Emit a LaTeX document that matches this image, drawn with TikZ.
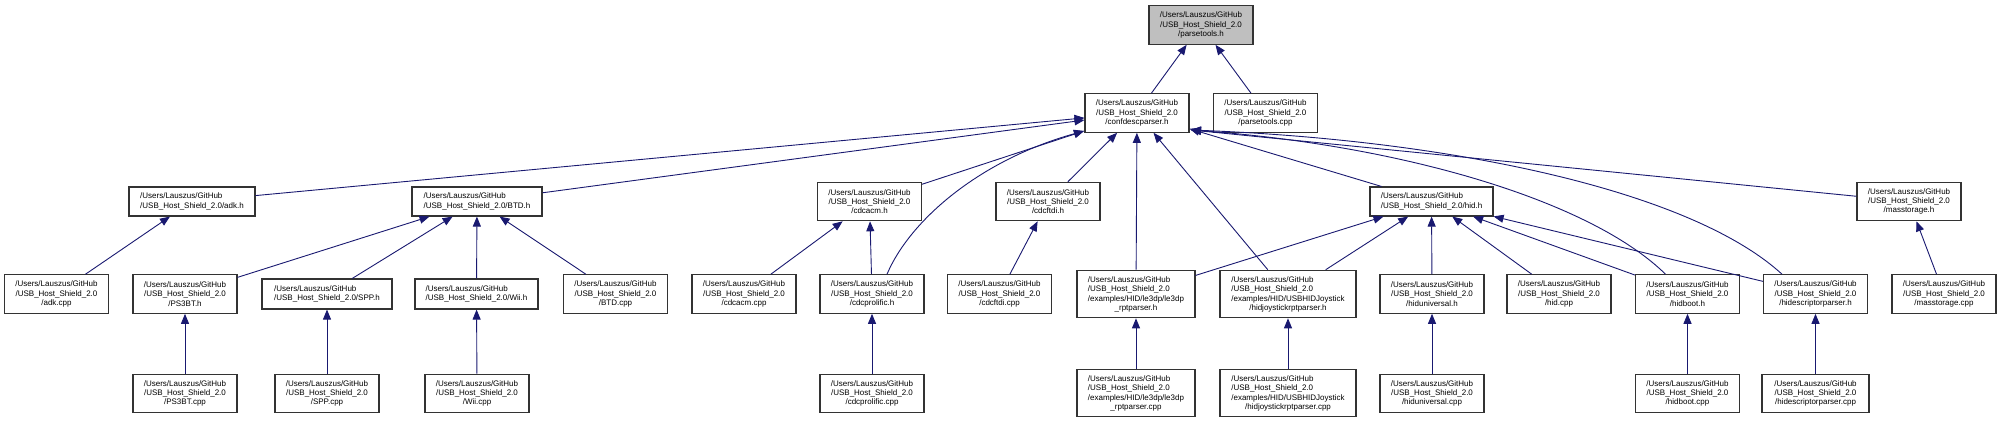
\documentclass[tikz,border=0pt]{standalone}
\usepackage{fontspec}
\setmainfont{Liberation Sans}
\usetikzlibrary{arrows.meta,calc}
\definecolor{edgeblue}{HTML}{191970}
\definecolor{rootfill}{HTML}{BFBFBF}
\definecolor{boxline}{HTML}{333333}
\newcommand{\UserP}{/Users/Lauszus/GitHub}
\newcommand{\ShieldP}{/USB\_Host\_Shield\_2.0}
\newcommand{\LeftThree}[1]{\begin{tabular}[b]{@{}l@{}}\UserP\\\ShieldP\\#1\end{tabular}}
\begin{document}
\begin{tikzpicture}[x=1pt,y=-1pt,
  fbox/.style={draw=boxline, line width=1.1pt, fill=white, text=black,
    font=\fontsize{8}{9.3}\selectfont, inner xsep=2pt, inner ysep=2pt,
    align=center, minimum width=104pt, minimum height=38.5pt},
  lbox/.style={fbox, align=left, minimum height=29pt},
  qbox/.style={fbox, minimum height=47.5pt},
  dep/.style={draw=edgeblue, line width=0.9pt, -{Triangle[length=10pt,width=8pt]}}]
\useasboundingbox (0,0) rectangle (2001,424);
% rank 0 / 1
\node[fbox, fill=rootfill] (pth) at (1201,25) {\UserP\\\ShieldP\\/parsetools.h};
\node[fbox] (cdp) at (1137,113) {\UserP\\\ShieldP\\/confdescparser.h};
\node[fbox] (ptc) at (1265.5,113) {\UserP\\\ShieldP\\/parsetools.cpp};
% rank 2
\node[lbox, minimum width=126pt] (adkh) at (192,201.5) {\UserP\\\ShieldP/adk.h};
\node[lbox, minimum width=130pt] (btdh) at (477,201.5) {\UserP\\\ShieldP/BTD.h};
\node[fbox] (acmh) at (869.5,201.5) {\UserP\\\ShieldP\\/cdcacm.h};
\node[fbox] (ftdih) at (1048,201.5) {\UserP\\\ShieldP\\/cdcftdi.h};
\node[lbox, minimum width=123pt] (hidh) at (1431.5,201.5) {\UserP\\\ShieldP/hid.h};
\node[fbox] (msh) at (1909,201.5) {\UserP\\\ShieldP\\/masstorage.h};
% rank 3
\node[fbox] (adkc) at (56.5,294) {\UserP\\\ShieldP\\/adk.cpp};
\node[fbox] (ps3h) at (185,294) {\UserP\\\ShieldP\\/PS3BT.h};
\node[lbox, minimum width=130pt, minimum height=30pt] (spph) at (327,294) {\UserP\\\ShieldP/SPP.h};
\node[lbox, minimum width=123pt, minimum height=30pt] (wiih) at (476.5,294) {\UserP\\\ShieldP/Wii.h};
\node[fbox] (btdc) at (615.5,294) {\UserP\\\ShieldP\\/BTD.cpp};
\node[fbox] (acmc) at (744,294) {\UserP\\\ShieldP\\/cdcacm.cpp};
\node[fbox] (plh) at (872,294) {\UserP\\\ShieldP\\/cdcprolific.h};
\node[fbox] (ftdic) at (999.5,294) {\UserP\\\ShieldP\\/cdcftdi.cpp};
\node[qbox, minimum width=118pt] (le3h) at (1136,294) {\LeftThree{/examples/HID/le3dp/le3dp}\\\_rptparser.h};
\node[qbox, minimum width=136pt] (joyh) at (1288,294) {\LeftThree{/examples/HID/USBHIDJoystick}\\/hidjoystickrptparser.h};
\node[fbox] (hunih) at (1432,294) {\UserP\\\ShieldP\\/hiduniversal.h};
\node[fbox] (hidc) at (1559,294) {\UserP\\\ShieldP\\/hid.cpp};
\node[fbox] (booth) at (1687.5,294) {\UserP\\\ShieldP\\/hidboot.h};
\node[fbox] (desch) at (1815.5,294) {\UserP\\\ShieldP\\/hidescriptorparser.h};
\node[fbox] (msc) at (1944,294) {\UserP\\\ShieldP\\/masstorage.cpp};
% rank 4
\node[fbox] (ps3c) at (185,393.5) {\UserP\\\ShieldP\\/PS3BT.cpp};
\node[fbox] (sppc) at (327,393.5) {\UserP\\\ShieldP\\/SPP.cpp};
\node[fbox] (wiic) at (477,393.5) {\UserP\\\ShieldP\\/Wii.cpp};
\node[fbox] (plc) at (872,393.5) {\UserP\\\ShieldP\\/cdcprolific.cpp};
\node[qbox, minimum width=118pt] (le3c) at (1136,393) {\LeftThree{/examples/HID/le3dp/le3dp}\\\_rptparser.cpp};
\node[qbox, minimum width=136pt] (joyc) at (1288,393) {\LeftThree{/examples/HID/USBHIDJoystick}\\/hidjoystickrptparser.cpp};
\node[fbox] (hunic) at (1432,393.5) {\UserP\\\ShieldP\\/hiduniversal.cpp};
\node[fbox] (bootc) at (1687.5,393.5) {\UserP\\\ShieldP\\/hidboot.cpp};
\node[fbox, minimum width=107pt] (descc) at (1815.5,393.5) {\UserP\\\ShieldP\\/hidescriptorparser.cpp};
% helper coordinates
\coordinate (cdpsw) at (1084,131);
\coordinate (cdpse) at (1191,130);
\coordinate (plhtop) at ($(plh.north)+(15,0)$);
\coordinate (boottop) at ($(booth.north)+(-22,0)$);
\coordinate (desctop) at ($(desch.north)+(-33.5,0)$);
% edges into parsetools.h
\draw[dep] (cdp) -- (pth);
\draw[dep] (ptc) -- (pth);
% edges into confdescparser.h
\draw[dep] (adkh) -- (cdp);
\draw[dep] (btdh) -- (cdp);
\draw[dep] (acmh) -- (cdpsw);
\draw[dep] (plhtop) .. controls (910,220) and (980,160) .. (cdpsw);
\draw[dep] (ftdih) -- (cdp);
\draw[dep] (le3h) -- (cdp);
\draw[dep] (joyh) -- (cdp);
\draw[dep] (hidh) -- (cdp);
\draw[dep] (boottop) .. controls (1590,200) and (1400,145) .. (cdpse);
\draw[dep] (desctop) .. controls (1690,190) and (1450,140) .. (cdpse);
\draw[dep] (msh) -- (cdpse);
% adk / BTD
\draw[dep] (adkc) -- (adkh);
\draw[dep] (ps3h) -- (btdh);
\draw[dep] (spph) -- (btdh);
\draw[dep] (wiih) -- (btdh);
\draw[dep] (btdc) -- (btdh);
\draw[dep] (ps3c) -- (ps3h);
\draw[dep] (sppc) -- (spph);
\draw[dep] (wiic) -- (wiih);
% cdc
\draw[dep] (acmc) -- (acmh);
\draw[dep] (plh) -- (acmh);
\draw[dep] (plc) -- (plh);
\draw[dep] (ftdic) -- (ftdih);
% hid
\draw[dep] (le3h) -- (hidh);
\draw[dep] (joyh) -- (hidh);
\draw[dep] (hunih) -- (hidh);
\draw[dep] (hidc) -- (hidh);
\draw[dep] (booth) -- (hidh);
\draw[dep] (desch) -- (hidh);
\draw[dep] (le3c) -- (le3h);
\draw[dep] (joyc) -- (joyh);
\draw[dep] (hunic) -- (hunih);
\draw[dep] (bootc) -- (booth);
\draw[dep] (descc) -- (desch);
\draw[dep] (msc) -- (msh);
\end{tikzpicture}
\end{document}
